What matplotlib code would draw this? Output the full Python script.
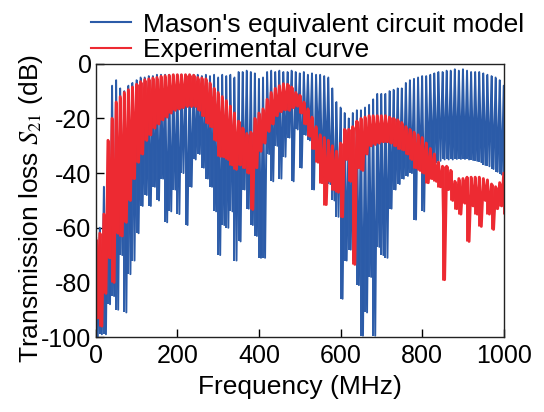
import numpy as np
import matplotlib
matplotlib.use('Agg')
import matplotlib.pyplot as plt
from matplotlib.lines import Line2D

plt.rcParams['font.family'] = ['Liberation Sans', 'DejaVu Sans']
plt.rcParams['mathtext.fontset'] = 'stix'
plt.rcParams['axes.unicode_minus'] = False

freq = np.arange(0, 1001, 10)

# Mason's equivalent circuit model: upper / lower swing of the ripple (dB)
mason_hi = [
    -70, -60, -45, -30, -8, -6, -9, -10, -8, -7,
    -6, -5, -5, -4.5, -4.5, -4, -4, -4, -4, -4,
    -4, -4, -4, -4, -4, -4, -4.5, -4, -4.5, -4,
    -5, -4, -4.5, -4, -5, -3, -3, -2.5, -3, -3.5,
    -5.5, -5, -3, -2.5, -3, -2.5, -3, -3, -2.5, -3,
    -3.5, -3, -4, -3.5, -4, -4, -4.5, -5, -9, -14,
    -16, -18, -20, -18, -17, -17, -16, -15, -13, -11,
    -11, -11, -10, -9.5, -9, -9, -7, -6, -5.5, -5,
    -4.5, -4.5, -4, -3.5, -3, -3, -2.5, -2.5, -2, -2.5,
    -2, -2.5, -3, -3, -3, -3.5, -4, -4.5, -5, -6,
    -8]
mason_lo = [
    -100, -99, -99, -88, -85, -90, -70, -91, -77, -72,
    -62, -52, -48, -52, -45, -50, -42, -58, -54, -46,
    -55, -40, -59, -45, -35, -33, -38, -42, -45, -54,
    -70, -59, -60, -54, -72, -65, -46, -53, -59, -63,
    -71, -71, -33, -43, -30, -42, -34, -27, -43, -24,
    -38, -26, -28, -46, -30, -43, -36, -44, -50, -56,
    -86, -72, -68, -72, -81, -99.5, -91, -78, -99.5, -67,
    -70, -71, -53, -46, -44, -42, -41, -40, -57, -39,
    -54, -37, -36.5, -36, -35.5, -35, -35, -35, -34.8, -34.8,
    -34.8, -35, -35.2, -35.5, -36, -37, -37.5, -38.5, -39.5, -40.5,
    -42]

# experimental curve: upper / lower swing (dB)
exp_hi = [
    -64, -62, -55, -28, -20, -14, -12, -10.5, -9.5, -8.5,
    -7.5, -6.5, -5.8, -5.5, -5.2, -5, -4.6, -4.4, -4.2, -4,
    -4, -4, -4, -4, -4.2, -5, -5.2, -5.5, -7, -9,
    -10.5, -12, -13.5, -15.5, -18, -21, -23.5, -25.5, -25, -20,
    -18, -16.5, -13, -10.5, -9, -8, -7.3, -7.5, -8.5, -10.5,
    -11.5, -14, -16.5, -19.5, -23, -26, -27, -28, -30, -32,
    -29, -24, -24, -23, -21, -20, -19.5, -19, -19, -19,
    -19, -19, -19.5, -20, -20.5, -21.5, -23, -24, -25, -26,
    -27, -29, -31, -33, -36, -37.5, -37.5, -39, -43, -42,
    -42, -41.5, -41.5, -41.5, -41.5, -42, -42.5, -44, -45, -43.5,
    -40]
exp_lo = [
    -93, -96, -84, -71, -80, -62, -63, -58, -50, -42,
    -36, -33, -28, -26, -23.5, -22, -20.5, -19.5, -18, -17,
    -16.5, -16, -15.6, -15.6, -15.6, -17, -19, -21.7, -23, -28,
    -33.8, -34, -35, -37, -38.6, -37, -38, -40, -53.3, -38,
    -32, -29, -24.7, -22, -19, -17.5, -16.8, -17, -16, -15.5,
    -18, -22, -26.5, -31, -36, -43.5, -51.5, -43, -46, -47,
    -56, -35, -43, -73.4, -38, -39, -33, -30, -29.5, -29,
    -28.5, -28.5, -29, -30, -31, -31.5, -33, -35, -38, -39,
    -40, -43.5, -42, -43, -45, -79, -46, -50, -53, -55,
    -51, -65, -52, -55, -59.5, -50, -55, -60.6, -53, -52,
    -55]

labels = ["Mason's equivalent circuit model", 'Experimental curve']


def ripple(f, hi, lo):
    # zigzag between the read upper and lower swings
    x = np.column_stack([f, f + 5]).ravel()
    y = np.column_stack([hi, lo]).ravel()
    return x, y


blue = '#2b5ba8'
red = '#ed2a32'

fig = plt.figure(figsize=(5.44, 4.12), dpi=100)
ax = fig.add_axes([0.176, 0.182, 0.750, 0.663])

xm, ym = ripple(freq, mason_hi, mason_lo)
xe, ye = ripple(freq, exp_hi, exp_lo)
ax.plot(xm, ym, color=blue, lw=1.4)
ax.vlines(freq, mason_lo, mason_hi, color=blue, lw=1.4)
ax.plot(xe, ye, color=red, lw=2.1)
ax.vlines(freq, exp_lo, exp_hi, color=red, lw=2.1)

ax.set_xlim(0, 1000)
ax.set_ylim(-100, 0)
ax.set_xticks([0, 200, 400, 600, 800, 1000])
ax.set_yticks([0, -20, -40, -60, -80, -100])
ax.tick_params(direction='in', length=6, width=1, labelsize=18)
ax.tick_params(axis='x', pad=5)
ax.tick_params(axis='y', pad=3)
for s in ax.spines.values():
    s.set_linewidth(1)
    s.set_color('#222222')

ax.set_xlabel('Frequency (MHz)', fontsize=19, labelpad=5)
ax.set_ylabel(r'Transmission loss $\mathit{S}_{21}$ (dB)', fontsize=19)
ax.yaxis.set_label_coords(-0.125, 0.472)

# thin legend lines like the original
handles = [Line2D([], [], color=blue, lw=1.5), Line2D([], [], color=red, lw=1.5)]
fig.legend(handles, labels,
           loc='upper left', bbox_to_anchor=(0.148, 0.995), frameon=False,
           fontsize=19, handlelength=1.5, handletextpad=0.45, labelspacing=0.05,
           borderaxespad=0)

fig.savefig('out.png', dpi=100)
